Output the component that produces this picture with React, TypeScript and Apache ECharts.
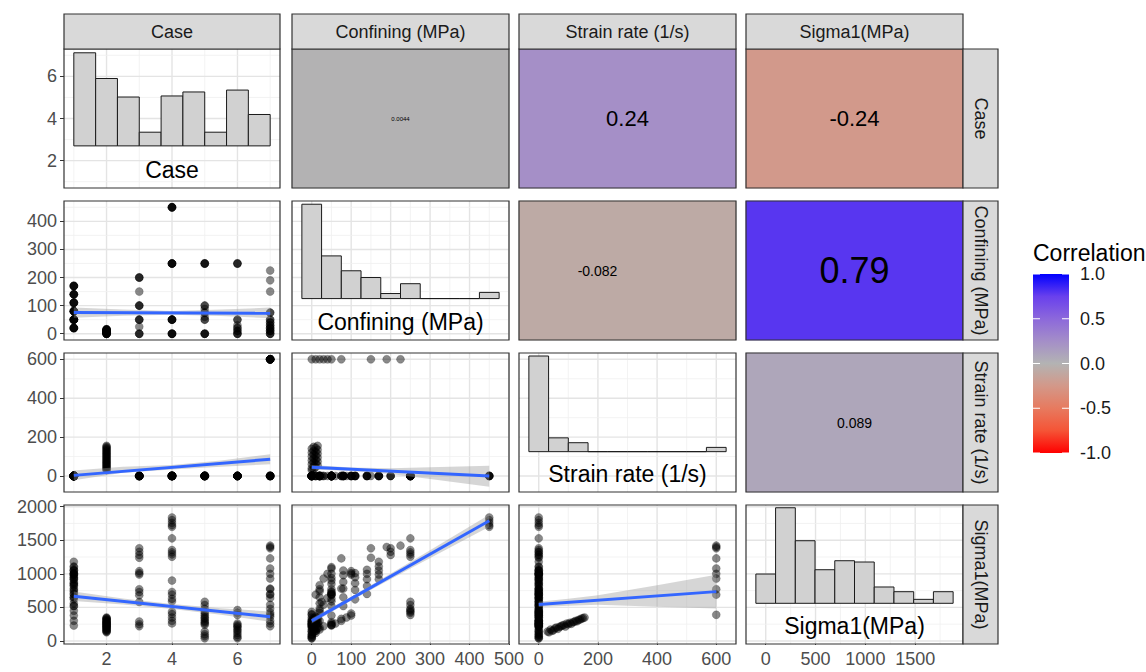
import React, { useEffect, useRef } from "react";
import * as echarts from "echarts";

const FONT = "'Liberation Sans', Arial, sans-serif";

// ---------------- data ----------------
const varLabels = ["Case", "Confining (MPa)", "Strain rate (1/s)", "Sigma1(MPa)"];

// rows: [confining (MPa), strain rate (1/s), sigma1 (MPa)]
const case1Rows = [
  [20, 0, 300], [20, 0, 450], [20, 0, 560], [20, 0, 650], [20, 0, 740], [20, 0, 830],
  [50, 0, 230], [50, 0, 380], [50, 0, 520], [50, 0, 700], [50, 0, 850], [50, 0, 940], [50, 0, 1000], [50, 0, 1100],
  [80, 0, 520], [80, 0, 650], [80, 0, 780], [80, 0, 880], [80, 0, 980], [80, 0, 1050],
  [110, 0, 620], [110, 0, 760], [110, 0, 860], [110, 0, 950], [110, 0, 1010],
  [140, 0, 700], [140, 0, 820], [140, 0, 920], [140, 0, 1000], [140, 0, 1060],
  [170, 0, 920], [170, 0, 990], [170, 0, 1050], [170, 0, 1110], [170, 0, 1180],
];
const case2Rows = [
  [0, 30, 140], [5, 35, 130], [0, 40, 170], [10, 45, 150], [5, 50, 160], [15, 55, 190], [0, 60, 200],
  [10, 65, 180], [5, 70, 210], [15, 75, 220], [0, 80, 230], [10, 85, 240], [5, 90, 215], [15, 95, 260],
  [0, 100, 250], [10, 105, 270], [5, 110, 255], [15, 115, 280], [0, 120, 285], [10, 125, 300],
  [5, 130, 295], [15, 135, 315], [0, 140, 320], [10, 145, 335], [5, 150, 340], [15, 155, 350],
];
const case3Rows = [
  [0, 0, 220], [0, 0, 250], [0, 0, 290], [25, 0, 580], [50, 0, 680], [50, 0, 730], [50, 0, 770],
  [100, 0, 990], [100, 0, 1010], [100, 0, 1040], [150, 0, 1240], [200, 0, 1280], [200, 0, 1330], [200, 0, 1380],
];
const case4Rows = [
  [0, 0, 262], [0, 0, 300], [0, 0, 350], [0, 0, 400], [0, 0, 436], [50, 0, 590], [50, 0, 630], [50, 0, 690],
  [50, 0, 730], [50, 0, 900], [250, 0, 1255], [250, 0, 1290], [250, 0, 1320], [250, 0, 1354], [250, 0, 1528],
  [450, 0, 1700], [450, 0, 1725], [450, 0, 1760], [450, 0, 1800], [450, 0, 1840],
];
const case5Rows = [
  [0, 0, 40], [0, 0, 70], [0, 0, 100], [0, 0, 140], [50, 0, 240], [50, 0, 280], [60, 0, 260], [75, 0, 300],
  [75, 0, 330], [88, 0, 350], [100, 0, 380], [100, 0, 410], [250, 0, 440], [250, 0, 480], [250, 0, 536], [250, 0, 585],
];
const case6Rows = [
  [0, 0, 40], [0, 0, 60], [0, 0, 90], [10, 0, 120], [10, 0, 150], [20, 0, 170], [20, 0, 200], [30, 0, 220],
  [50, 0, 238], [50, 0, 260], [250, 0, 387], [250, 0, 420], [250, 0, 461],
];
const case7Rows = [
  [0, 600, 390], [10, 600, 690], [20, 600, 770], [30, 600, 930], [40, 600, 1000], [50, 600, 1080],
  [75, 600, 1230], [150, 600, 1380], [190, 600, 1400], [225, 600, 1420],
  [0, 0, 220], [0, 0, 260], [10, 0, 300], [10, 0, 360], [20, 0, 420], [20, 0, 480], [30, 0, 540],
  [40, 0, 640], [50, 0, 700], [75, 0, 780],
];
const caseRows = [case1Rows, case2Rows, case3Rows, case4Rows, case5Rows, case6Rows, case7Rows];

// axis ranges (columns = x, rows = y)
const caseRange = [0.7, 7.3];
const confiningXRange = [-50, 500];
const strainXRange = [-66.67, 666.67];
const sigmaXRange = [-198, 1980];
const confiningYRange = [-22.5, 472.5];
const strainYRange = [-82.5, 632.5];
const sigmaYRange = [-45, 2025];

// tick labels and grid breaks
const caseTicks = [2, 4, 6];
const caseMinor = [1, 3, 5, 7];
const confiningXTicks = [0, 100, 200, 300, 400, 500];
const confiningXMinor = [-50, 50, 150, 250, 350, 450];
const confiningYTicks = [0, 100, 200, 300, 400];
const confiningYMinor = [50, 150, 250, 350, 450];
const strainTicks = [0, 200, 400, 600];
const strainMinor = [100, 300, 500];
const sigmaXTicks = [0, 500, 1000, 1500];
const sigmaYTicks = [0, 500, 1000, 1500, 2000];
const sigmaMinor = [250, 750, 1250, 1750];

// diagonal histograms (bar edges, bar tops and base in the row's y units)
const caseBinEdges = [1, 1.667, 2.333, 3, 3.667, 4.333, 5, 5.667, 6.333, 7];
const caseBarTops = [7.12, 5.9, 5.02, 3.35, 5.07, 5.26, 3.35, 5.35, 4.19];
const caseBarBase = 2.7;
const confiningBinEdges = [-25, 25, 75, 125, 175, 225, 275, 325, 375, 425, 475];
const confiningBarTops = [461, 277, 224, 200, 143, 178, 125, 125, 125, 147];
const confiningBarBase = 125;
const strainBinEdges = [-33.3, 33.3, 100, 166.7, 233.3, 300, 366.7, 433.3, 500, 566.7, 633.3];
const strainBarTops = [617, 196, 171, 125, 125, 125, 125, 125, 125, 147];
const strainBarBase = 125;
const sigmaBinEdges = [-99, 99, 297, 495, 693, 891, 1089, 1287, 1485, 1683, 1881];
const sigmaBarTops = [997, 1984, 1493, 1061, 1195, 1176, 804, 734, 620, 734];
const sigmaBarBase = 561;

// linear fits and confidence bands: [x, y] and [x, low, high]
const fitCaseConfining = [[1, 75], [7, 73]];
const bandCaseConfining = [[1, 57, 93], [2.5, 64, 86], [4, 67, 81], [5.5, 63, 86], [7, 55, 93]];
const fitCaseStrain = [[1, 3], [7, 86]];
const bandCaseStrain = [[1, -22, 28], [2.5, 16, 47], [4, 33, 57], [5.5, 48, 80], [7, 60, 112]];
const fitCaseSigma = [[1, 665], [7, 362]];
const bandCaseSigma = [[1, 595, 735], [2.5, 545, 633], [4, 477, 550], [5.5, 390, 486], [7, 285, 440]];
const fitConfiningStrain = [[0, 45], [450, 0]];
const bandConfiningStrain = [[0, 33, 57], [100, 26, 44], [200, 10, 40], [300, -15, 45], [450, -55, 52]];
const fitConfiningSigma = [[0, 300], [450, 1790]];
const bandConfiningSigma = [[0, 262, 338], [100, 603, 659], [250, 1080, 1176], [450, 1700, 1880]];
const fitStrainSigma = [[0, 545], [600, 735]];
const bandStrainSigma = [[0, 505, 585], [100, 525, 630], [200, 540, 680], [400, 510, 830], [600, 485, 985]];

// correlations (upper panels)
const corrCells = [[0, 1], [0, 2], [0, 3], [1, 2], [1, 3], [2, 3]];
const corrValues = [0.0044, 0.24, -0.24, -0.082, 0.79, 0.089];
const corrLabels = ["0.0044", "0.24", "-0.24", "-0.082", "0.79", "0.089"];
const corrScaleTicks = [1, 0.5, 0, -0.5, -1];
const corrScaleLabels = ["1.0", "0.5", "0.0", "-0.5", "-1.0"];

// ---------------- layout & style ----------------
const colLeft = [64, 292, 519, 746];
const colWidth = [216, 217, 217, 217];
const rowTop = [49, 201, 353, 505];
const rowHeight = 139;
const stripH = 35;
const stripW = 35;
const corrFontSizes = [6, 22, 22, 14, 36, 14];
const corrLabelOffsets = [[0, 0], [0, 0], [0, 0], [-30, 0], [0, 0], [0, 0]];
const corrColors = ["#FF0000", "#F55436", "#E77A5F", "#D39889", "#B3B3B3", "#A48EC8", "#8C68DB", "#6940ED", "#0000FF"];

const colXRange = [caseRange, confiningXRange, strainXRange, sigmaXRange];
const rowYRange = [caseRange, confiningYRange, strainYRange, sigmaYRange];
const colXTicks = [caseTicks, confiningXTicks, strainTicks, sigmaXTicks];
const colXMinor = [caseMinor, confiningXMinor, strainMinor, sigmaMinor];
const rowYTicks = [caseTicks, confiningYTicks, strainTicks, sigmaYTicks];
const rowYMinor = [caseMinor, confiningYMinor, strainMinor, sigmaMinor];
const histData = [
  [caseBinEdges, caseBarTops, caseBarBase],
  [confiningBinEdges, confiningBarTops, confiningBarBase],
  [strainBinEdges, strainBarTops, strainBarBase],
  [sigmaBinEdges, sigmaBarTops, sigmaBarBase],
];
const fits: Record<string, [number[][], number[][]]> = {
  "0-1": [fitCaseConfining, bandCaseConfining],
  "0-2": [fitCaseStrain, bandCaseStrain],
  "0-3": [fitCaseSigma, bandCaseSigma],
  "1-2": [fitConfiningStrain, bandConfiningStrain],
  "1-3": [fitConfiningSigma, bandConfiningSigma],
  "2-3": [fitStrainSigma, bandStrainSigma],
};

function allRows(): number[][] {
  const out: number[][] = [];
  caseRows.forEach((g, i) => g.forEach((r) => out.push([i + 1, r[0], r[1], r[2]])));
  return out;
}

function buildOption() {
  const grid: any[] = [];
  const xAxis: any[] = [];
  const yAxis: any[] = [];
  const series: any[] = [];
  const heatIdx: number[] = [];
  const rows = allRows();
  const labelStyle = {
    fontFamily: FONT,
    fontSize: 18,
    color: "#4D4D4D",
    formatter: (v: number) => String(v),
  };

  for (let r = 0; r < 4; r++) {
    for (let c = 0; c < 4; c++) {
      const idx = grid.length;
      grid.push({ left: colLeft[c], top: rowTop[r], width: colWidth[c], height: rowHeight });
      if (c > r) {
        xAxis.push({ gridIndex: idx, type: "category", data: ["x"], show: false });
        yAxis.push({ gridIndex: idx, type: "category", data: ["y"], show: false });
        const k = corrCells.findIndex((p) => p[0] === r && p[1] === c);
        heatIdx.push(series.length);
        series.push({
          type: "heatmap",
          xAxisIndex: idx,
          yAxisIndex: idx,
          data: [[0, 0, corrValues[k]]],
          label: {
            show: true,
            formatter: () => corrLabels[k],
            fontSize: corrFontSizes[k],
            fontFamily: FONT,
            color: "#000000",
            offset: corrLabelOffsets[k],
          },
          emphasis: { disabled: true },
          silent: true,
        });
        continue;
      }
      const xr = colXRange[c];
      const yr = rowYRange[r];
      xAxis.push({
        gridIndex: idx,
        type: "value",
        min: xr[0],
        max: xr[1],
        axisLine: { show: false },
        axisTick: { show: r === 3, customValues: colXTicks[c], length: 4, lineStyle: { color: "#333333", width: 1 } },
        axisLabel: { show: r === 3, customValues: colXTicks[c], margin: 6, ...labelStyle },
        splitLine: { show: false },
      });
      yAxis.push({
        gridIndex: idx,
        type: "value",
        min: yr[0],
        max: yr[1],
        axisLine: { show: false },
        axisTick: { show: c === 0, customValues: rowYTicks[r], length: 4, lineStyle: { color: "#333333", width: 1 } },
        axisLabel: { show: c === 0, customValues: rowYTicks[r], margin: 7, ...labelStyle },
        splitLine: { show: false },
      });

      // grid lines
      const gdata: number[][] = [];
      colXTicks[c].forEach((v) => gdata.push([v, yr[0], 0, 1]));
      colXMinor[c].forEach((v) => gdata.push([v, yr[0], 0, 0]));
      rowYTicks[r].forEach((v) => gdata.push([xr[0], v, 1, 1]));
      rowYMinor[r].forEach((v) => gdata.push([xr[0], v, 1, 0]));
      series.push({
        type: "custom",
        xAxisIndex: idx,
        yAxisIndex: idx,
        silent: true,
        z: 1,
        encode: { x: 0, y: 1 },
        data: gdata,
        renderItem: (params: any, api: any) => {
          const cs = params.coordSys;
          const p = api.coord([api.value(0), api.value(1)]);
          const major = api.value(3) === 1;
          const vertical = api.value(2) === 0;
          const shape = vertical
            ? { x1: p[0], y1: cs.y, x2: p[0], y2: cs.y + cs.height }
            : { x1: cs.x, y1: p[1], x2: cs.x + cs.width, y2: p[1] };
          return {
            type: "line",
            shape,
            style: { stroke: major ? "#E4E4E4" : "#F0F0F0", lineWidth: major ? 1.4 : 0.8 },
          };
        },
      });

      if (r === c) {
        const [edges, tops, base] = histData[c] as [number[], number[], number];
        series.push({
          type: "custom",
          xAxisIndex: idx,
          yAxisIndex: idx,
          silent: true,
          z: 2,
          encode: { x: [0, 1], y: 2 },
          data: tops.map((t, i) => [edges[i], edges[i + 1], t]),
          renderItem: (params: any, api: any) => {
            const p0 = api.coord([api.value(0), api.value(2)]);
            const p1 = api.coord([api.value(1), base]);
            return {
              type: "rect",
              shape: { x: p0[0], y: p0[1], width: p1[0] - p0[0], height: p1[1] - p0[1] },
              style: { fill: "#D1D1D1", stroke: "#1A1A1A", lineWidth: 1 },
            };
          },
        });
        continue;
      }

      // scatter
      series.push({
        type: "scatter",
        xAxisIndex: idx,
        yAxisIndex: idx,
        silent: true,
        z: 3,
        symbolSize: 8,
        itemStyle: { color: "rgba(0,0,0,0.58)", borderColor: "rgba(0,0,0,0.4)", borderWidth: 0.6 },
        data: rows.map((row) => [row[c], row[r]]),
      });
      const [fit, band] = fits[`${c}-${r}`];
      series.push({
        type: "custom",
        xAxisIndex: idx,
        yAxisIndex: idx,
        silent: true,
        z: 4,
        encode: { x: 0, y: 1 },
        data: band.map((b) => [b[0], b[1]]),
        renderItem: (params: any, api: any) => {
          if (params.dataIndex !== 0) return { type: "group", children: [] };
          const pts: number[][] = [];
          band.forEach((b) => pts.push(api.coord([b[0], b[2]])));
          for (let i = band.length - 1; i >= 0; i--) pts.push(api.coord([band[i][0], band[i][1]]));
          return { type: "polygon", shape: { points: pts }, style: { fill: "rgba(153,153,153,0.4)" } };
        },
      });
      series.push({
        type: "line",
        xAxisIndex: idx,
        yAxisIndex: idx,
        silent: true,
        z: 5,
        symbol: "none",
        data: fit,
        lineStyle: { color: "#3366FF", width: 3 },
      });
    }
  }

  // graphics: strips, borders, diagonal labels, legend
  const graphic: any[] = [];
  const txt = (x: number, y: number, text: string, size: number, color: string, extra: any = {}) => ({
    type: "text",
    x,
    y,
    silent: true,
    z: 120,
    ...extra,
    style: {
      text,
      fontSize: size,
      fontFamily: FONT,
      fill: color,
      align: extra.align || "center",
      verticalAlign: "middle",
    },
  });
  for (let c = 0; c < 4; c++) {
    graphic.push({
      type: "rect",
      silent: true,
      z: 110,
      shape: { x: colLeft[c], y: rowTop[0] - stripH, width: colWidth[c], height: stripH },
      style: { fill: "#D9D9D9", stroke: "#333333", lineWidth: 1.2 },
    });
    graphic.push(txt(colLeft[c] + colWidth[c] / 2, rowTop[0] - stripH / 2, varLabels[c], 18, "#1A1A1A"));
  }
  const rightX = colLeft[3] + colWidth[3];
  for (let r = 0; r < 4; r++) {
    graphic.push({
      type: "rect",
      silent: true,
      z: 110,
      shape: { x: rightX, y: rowTop[r], width: stripW, height: rowHeight },
      style: { fill: "#D9D9D9", stroke: "#333333", lineWidth: 1.2 },
    });
    graphic.push(
      txt(rightX + stripW / 2, rowTop[r] + rowHeight / 2, varLabels[r], 18, "#1A1A1A", { rotation: -Math.PI / 2 })
    );
  }
  for (let r = 0; r < 4; r++) {
    for (let c = 0; c < 4; c++) {
      graphic.push({
        type: "rect",
        silent: true,
        z: 100,
        shape: { x: colLeft[c], y: rowTop[r], width: colWidth[c], height: rowHeight },
        style: { fill: "none", stroke: "#333333", lineWidth: 1.2 },
      });
    }
    graphic.push(txt(colLeft[r] + colWidth[r] / 2, rowTop[r] + 121, varLabels[r], 23, "#000000"));
  }

  // colour bar legend
  const barX = 1033, barY = 274, barW = 36, barH = 179;
  graphic.push(txt(barX, 253, "Correlation", 23, "#000000", { align: "left" }));
  graphic.push({
    type: "rect",
    silent: true,
    z: 100,
    shape: { x: barX, y: barY, width: barW, height: barH },
    style: {
      fill: new echarts.graphic.LinearGradient(
        0, 0, 0, 1,
        corrColors.slice().reverse().map((col, i) => ({ offset: i / (corrColors.length - 1), color: col }))
      ),
    },
  });
  corrScaleTicks.forEach((v, i) => {
    const y = barY + ((1 - v) / 2) * barH;
    graphic.push({ type: "line", silent: true, z: 101, shape: { x1: barX, y1: y, x2: barX + 7, y2: y }, style: { stroke: "#FFFFFF", lineWidth: 1 } });
    graphic.push({ type: "line", silent: true, z: 101, shape: { x1: barX + barW - 7, y1: y, x2: barX + barW, y2: y }, style: { stroke: "#FFFFFF", lineWidth: 1 } });
    graphic.push(txt(barX + barW + 11, y, corrScaleLabels[i], 18, "#1A1A1A", { align: "left" }));
  });

  return {
    animation: false,
    backgroundColor: "#FFFFFF",
    grid,
    xAxis,
    yAxis,
    series,
    graphic,
    visualMap: {
      type: "continuous",
      show: false,
      min: -1,
      max: 1,
      dimension: 2,
      seriesIndex: heatIdx,
      inRange: { color: corrColors },
    },
  };
}

export default function App() {
  const ref = useRef<HTMLDivElement>(null);
  useEffect(() => {
    if (!ref.current) return;
    const chart = echarts.init(ref.current, undefined, { renderer: "svg" });
    chart.setOption(buildOption() as any);
    return () => chart.dispose();
  }, []);
  return (
    <div
      ref={ref}
      style={{ position: "absolute", left: 0, top: 0, width: 1146, height: 672, background: "#FFFFFF" }}
    />
  );
}
